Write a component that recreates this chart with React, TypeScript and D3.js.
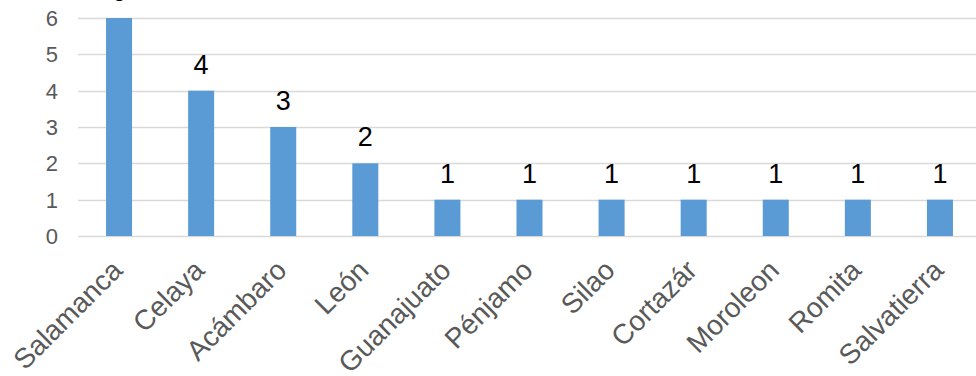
import React from "react";
import * as d3 from "d3";

const categories = ["Salamanca", "Celaya", "Acámbaro", "León", "Guanajuato", "Pénjamo", "Silao", "Cortazár", "Moroleon", "Romita", "Salvatierra"];
const values = [6, 4, 3, 2, 1, 1, 1, 1, 1, 1, 1];
const yTicks = [0, 1, 2, 3, 4, 5, 6];

const W = 976;
const H = 376;

export default function App() {
  const x = d3.scaleBand<string>().domain(categories).range([78, 981]).paddingInner(0.683).paddingOuter(0.3415);
  const y = d3.scaleLinear().domain([0, 6]).range([236, 18]);
  const font = "Arial, 'Liberation Sans', sans-serif";
  return (
    <svg width={W} height={H} style={{ position: "fixed", left: 0, top: 0, background: "#fff" }} fontFamily={font}>
      <rect x={0} y={0} width={W} height={H} fill="#fff" />
      {yTicks.map((t) => (
        <g key={t}>
          <line x1={78} x2={W} y1={Math.round(y(t)) + 0.5} y2={Math.round(y(t)) + 0.5} stroke="#d9d9d9" strokeWidth={1.5} />
          <text x={58} y={y(t)} dy="0.36em" textAnchor="end" fontSize={22} fill="#595959">{t}</text>
        </g>
      ))}
      {categories.map((c, i) => {
        const bx = x(c) as number;
        const cx = bx + x.bandwidth() / 2;
        return (
          <g key={c}>
            <rect x={bx} y={y(values[i])} width={x.bandwidth()} height={y(0) - y(values[i])} fill="#5b9bd5" />
            <text x={cx} y={y(values[i]) - 17} textAnchor="middle" fontSize={27} fill="#000">{values[i]}</text>
            <text transform={`translate(${cx + 5},${272}) rotate(-45)`} textAnchor="end" fontSize={28} fill="#595959">{c}</text>
          </g>
        );
      })}
    </svg>
  );
}
